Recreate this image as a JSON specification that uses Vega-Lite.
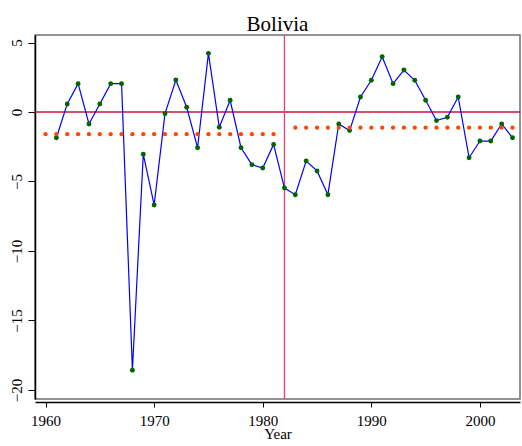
{
  "$schema": "https://vega.github.io/schema/vega-lite/v6.json",
  "width": 485,
  "height": 364,
  "autosize": "none",
  "padding": {"left": 35, "top": 35, "right": 2, "bottom": 47},
  "background": "white",
  "title": {"text": "Bolivia", "font": "Liberation Serif", "fontSize": 21, "fontWeight": "normal", "color": "black", "anchor": "middle", "frame": "group", "baseline": "bottom", "offset": 4, "dy": 26},
  "config": {
    "view": {"stroke": "#707070", "strokeWidth": 1.5},
    "axis": {"grid": false, "labelFont": "Liberation Serif", "titleFont": "Liberation Serif", "labelColor": "black", "titleColor": "black", "domainColor": "black", "tickColor": "black", "labelFontSize": 15, "titleFontSize": 15, "titleFontWeight": "normal", "domainWidth": 1.5, "tickWidth": 1}
  },
  "data": {"values": [
    {"year": 1960, "growth": null, "mean": -1.6},
    {"year": 1961, "growth": -1.85, "mean": -1.6},
    {"year": 1962, "growth": 0.58, "mean": -1.6},
    {"year": 1963, "growth": 2.04, "mean": -1.6},
    {"year": 1964, "growth": -0.86, "mean": -1.6},
    {"year": 1965, "growth": 0.58, "mean": -1.6},
    {"year": 1966, "growth": 2.04, "mean": -1.6},
    {"year": 1967, "growth": 2.04, "mean": -1.6},
    {"year": 1968, "growth": -18.58, "mean": -1.6},
    {"year": 1969, "growth": -3.04, "mean": -1.6},
    {"year": 1970, "growth": -6.69, "mean": -1.6},
    {"year": 1971, "growth": -0.12, "mean": -1.6},
    {"year": 1972, "growth": 2.3, "mean": -1.6},
    {"year": 1973, "growth": 0.34, "mean": -1.6},
    {"year": 1974, "growth": -2.57, "mean": -1.6},
    {"year": 1975, "growth": 4.22, "mean": -1.6},
    {"year": 1976, "growth": -1.1, "mean": -1.6},
    {"year": 1977, "growth": 0.84, "mean": -1.6},
    {"year": 1978, "growth": -2.57, "mean": -1.6},
    {"year": 1979, "growth": -3.79, "mean": -1.6},
    {"year": 1980, "growth": -4.03, "mean": -1.6},
    {"year": 1981, "growth": -2.33, "mean": -1.6},
    {"year": 1982, "growth": -5.47, "mean": null},
    {"year": 1983, "growth": -5.95, "mean": -1.13},
    {"year": 1984, "growth": -3.53, "mean": -1.13},
    {"year": 1985, "growth": -4.24, "mean": -1.13},
    {"year": 1986, "growth": -5.95, "mean": -1.13},
    {"year": 1987, "growth": -0.86, "mean": -1.13},
    {"year": 1988, "growth": -1.34, "mean": -1.13},
    {"year": 1989, "growth": 1.08, "mean": -1.13},
    {"year": 1990, "growth": 2.28, "mean": -1.13},
    {"year": 1991, "growth": 3.98, "mean": -1.13},
    {"year": 1992, "growth": 2.04, "mean": -1.13},
    {"year": 1993, "growth": 3.02, "mean": -1.13},
    {"year": 1994, "growth": 2.28, "mean": -1.13},
    {"year": 1995, "growth": 0.84, "mean": -1.13},
    {"year": 1996, "growth": -0.62, "mean": -1.13},
    {"year": 1997, "growth": -0.38, "mean": -1.13},
    {"year": 1998, "growth": 1.08, "mean": -1.13},
    {"year": 1999, "growth": -3.29, "mean": -1.13},
    {"year": 2000, "growth": -2.09, "mean": -1.13},
    {"year": 2001, "growth": -2.09, "mean": -1.13},
    {"year": 2002, "growth": -0.86, "mean": -1.13},
    {"year": 2003, "growth": -1.85, "mean": -1.13}
  ]},
  "layer": [
    {
      "data": {"values": [{"y0": 0}]},
      "mark": {"type": "rule", "color": "#d0103c", "strokeWidth": 1.3},
      "encoding": {
        "y": {"field": "y0", "type": "quantitative", "scale": {"domain": [-20.65, 5.54], "nice": false, "zero": false}}
      }
    },
    {
      "data": {"values": [{"x0": 1982}]},
      "mark": {"type": "rule", "color": "#e0466e", "strokeWidth": 1.3},
      "encoding": {
        "x": {"field": "x0", "type": "quantitative", "scale": {"domain": [1959.03, 2003.69], "nice": false, "zero": false}}
      }
    },
    {
      "transform": [{"filter": "datum.growth != null"}],
      "mark": {"type": "line", "color": "#0000ff", "strokeWidth": 1.2},
      "encoding": {
        "x": {"field": "year", "type": "quantitative", "scale": {"domain": [1959.03, 2003.69], "nice": false, "zero": false},
              "axis": {"values": [1960, 1970, 1980, 1990, 2000], "format": "d", "title": "Year", "tickSize": 5, "labelPadding": 6, "titlePadding": -2, "offset": 3, "labelFlush": false}},
        "y": {"field": "growth", "type": "quantitative", "scale": {"domain": [-20.65, 5.54], "nice": false, "zero": false},
              "axis": {"values": [-20, -15, -10, -5, 0, 5], "title": null, "labelAngle": -90, "tickSize": 7, "labelPadding": 4, "labelAlign": "center", "labelBaseline": "bottom", "labelFlush": false}}
      }
    },
    {
      "transform": [{"filter": "datum.growth != null"}],
      "mark": {"type": "point", "filled": true, "color": "#006400", "size": 24, "opacity": 1},
      "encoding": {
        "x": {"field": "year", "type": "quantitative"},
        "y": {"field": "growth", "type": "quantitative"}
      }
    },
    {
      "transform": [{"filter": "datum.mean != null"}],
      "mark": {"type": "point", "filled": true, "color": "#ff4500", "size": 18, "opacity": 1},
      "encoding": {
        "x": {"field": "year", "type": "quantitative"},
        "y": {"field": "mean", "type": "quantitative"}
      }
    }
  ]
}
